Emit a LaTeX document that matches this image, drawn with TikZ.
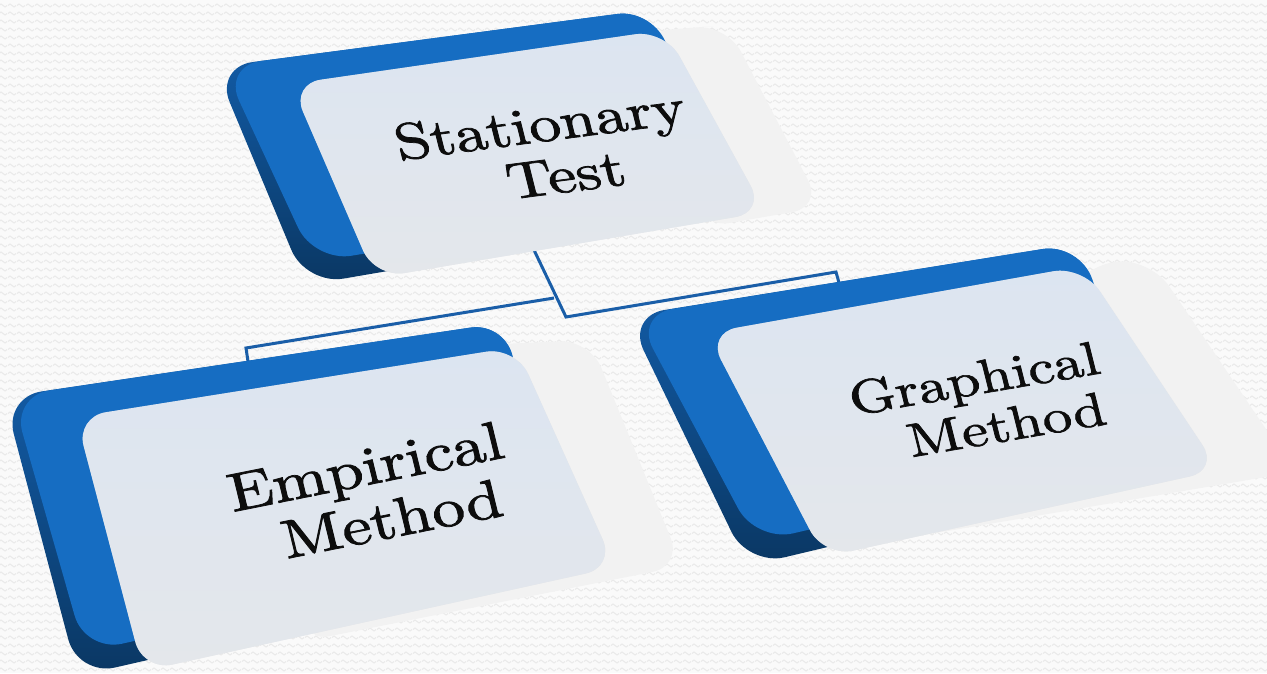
\documentclass[tikz,border=0pt]{standalone}
\usepackage{fontspec}
\usetikzlibrary{calc,patterns.meta}

% slightly heavier Latin Modern for the card labels
\newfontfamily\cardfont{lmroman10-regular.otf}[FakeBold=1.4]

\definecolor{paper}{HTML}{FAFAFA}
\definecolor{wave}{HTML}{EAEAEA}
\definecolor{faceblue}{HTML}{166DC2}
\definecolor{sidetop}{HTML}{1462B2}
\definecolor{sidebot}{HTML}{0A3763}
\definecolor{cardtop}{HTML}{DCE5F1}
\definecolor{cardbot}{HTML}{E4E7EB}
\definecolor{ghost}{HTML}{F2F2F2}
\definecolor{shadowgrey}{HTML}{D9DBDE}
\definecolor{linkblue}{HTML}{1A5EA8}

% one period of the wavy paper texture
\tikzdeclarepattern{
  name=paperwave,
  type=uncolored,
  bottom left={(0pt,0pt)},
  top right={(9pt,7.5pt)},
  tile size={(9pt,7.5pt)},
  code={
    \draw[line width=1.1pt] (0pt,3.75pt) sin (2.25pt,5.35pt) cos (4.5pt,3.75pt)
      sin (6.75pt,2.15pt) cos (9pt,3.75pt);
  }
}

\tikzset{
  % closed quadrilateral whose four corners all get rounded
  rq/.style n args={4}{insert path={($(#1)!.5!(#2)$) -- (#2) -- (#3) -- (#4) -- (#1) -- cycle}},
  slabside/.style={top color=sidetop, bottom color=sidebot, rounded corners=38},
  slabface/.style={fill=faceblue, rounded corners=38},
  lightcard/.style={top color=cardtop, bottom color=cardbot, rounded corners=30},
  cardshadow/.style={fill=shadowgrey, fill opacity=.55, rounded corners=30},
  ghostcard/.style={fill=ghost, rounded corners=30},
  linkline/.style={draw=linkblue, line width=3, line join=miter},
  cardtext/.style={align=center, text=black!95, inner sep=0},
}

\begin{document}
\begin{tikzpicture}[x=1pt,y=-1pt]
\useasboundingbox (0,0) rectangle (1267,673);
\clip (0,0) rectangle (1267,673);

% wavy paper texture
\fill[paper] (0,0) rectangle (1267,673);
\fill[pattern=paperwave, pattern color=wave] (0,0) rectangle (1267,673);

% ---------- corner points of the three cards ----------
% top card
\coordinate (sOTL) at (215,67);  \coordinate (sOTR) at (655,9);
\coordinate (sOBR) at (715,215); \coordinate (sOBL) at (306,285);
\coordinate (sFTL) at (223,66);  \coordinate (sFTR) at (655,9);
\coordinate (sFBR) at (715,195); \coordinate (sFBL) at (314,262);
\coordinate (sLTL) at (291,84);  \coordinate (sLTR) at (665,30);
\coordinate (sLBR) at (765,212); \coordinate (sLBL) at (375,278);
\coordinate (sGTL) at (640,32);  \coordinate (sGTR) at (727,25);
\coordinate (sGBR) at (822,207); \coordinate (sGBL) at (700,228);
% left card
\coordinate (eOTL) at (4,397);   \coordinate (eOTR) at (508,322);
\coordinate (eOBR) at (540,570); \coordinate (eOBL) at (78,676);
\coordinate (eFTL) at (12,396);  \coordinate (eFTR) at (508,322);
\coordinate (eFBR) at (540,550); \coordinate (eFBL) at (85,652);
\coordinate (eLTL) at (76,417);  \coordinate (eLTR) at (516,347);
\coordinate (eLBR) at (615,567); \coordinate (eLBL) at (143,671);
\coordinate (eGTL) at (480,345); \coordinate (eGTR) at (590,340);
\coordinate (eGBR) at (682,566); \coordinate (eGBL) at (300,642);
% right card
\coordinate (gOTL) at (627,316); \coordinate (gOTR) at (1080,243);
\coordinate (gOBR) at (1150,470);\coordinate (gOBL) at (748,566);
\coordinate (gFTL) at (635,315); \coordinate (gFTR) at (1080,243);
\coordinate (gFBR) at (1150,450);\coordinate (gFBL) at (756,542);
\coordinate (gLTL) at (707,333); \coordinate (gLTR) at (1083,266);
\coordinate (gLBR) at (1219,470);\coordinate (gLBL) at (824,557);
\coordinate (gGTL) at (1090,262);\coordinate (gGTR) at (1152,261);
\coordinate (gGBR) at (1295,472);\coordinate (gGBL) at (900,539);

% ---------- connectors ----------
\coordinate (stat-foot) at (534,250);
\coordinate (trunk-end) at (566,317);
\coordinate (split)     at (554,298);
\coordinate (emp-bend)  at (246,348);
\coordinate (emp-top)   at (249,368);
\coordinate (gra-bend)  at (836,272);
\coordinate (gra-top)   at (841,290);
\draw[linkline] (stat-foot) -- (trunk-end) -- (gra-bend) -- (gra-top);
\draw[linkline] (split) -- (emp-bend) -- (emp-top);

% ---------- cards ----------
\foreach \c in {s,e,g}{
  \path[ghostcard, rq={\c GTL}{\c GTR}{\c GBR}{\c GBL}];
  \path[slabside,  rq={\c OTL}{\c OTR}{\c OBR}{\c OBL}];
  \path[slabface,  rq={\c FTL}{\c FTR}{\c FBR}{\c FBL}];
  \begin{scope}[yshift=-3pt]
    \path[cardshadow, rq={\c LTL}{\c LTR}{\c LBR}{\c LBL}];
  \end{scope}
  \path[lightcard, rq={\c LTL}{\c LTR}{\c LBR}{\c LBL}];
}

% ---------- labels ----------
\node[cardtext, font=\cardfont\fontsize{63}{65}\selectfont, cm={1,0.13,-0.2,0.8,(0,0)}]
  (stat) at (546,150) {Stationary\\\hspace*{26pt}Test};
\node[cardtext, font=\cardfont\fontsize{64.5}{67}\selectfont, cm={1,0.2,-0.2,0.82,(0,0)}]
  (emp) at (372,494) {Empirical\\\hspace*{26pt}Method};
\node[cardtext, font=\cardfont\fontsize{58}{62}\selectfont, cm={1,0.17,-0.2,0.8,(0,0)}]
  (gra) at (980,403) {Graphical\\\hspace*{40pt}Method};
\end{tikzpicture}
\end{document}
